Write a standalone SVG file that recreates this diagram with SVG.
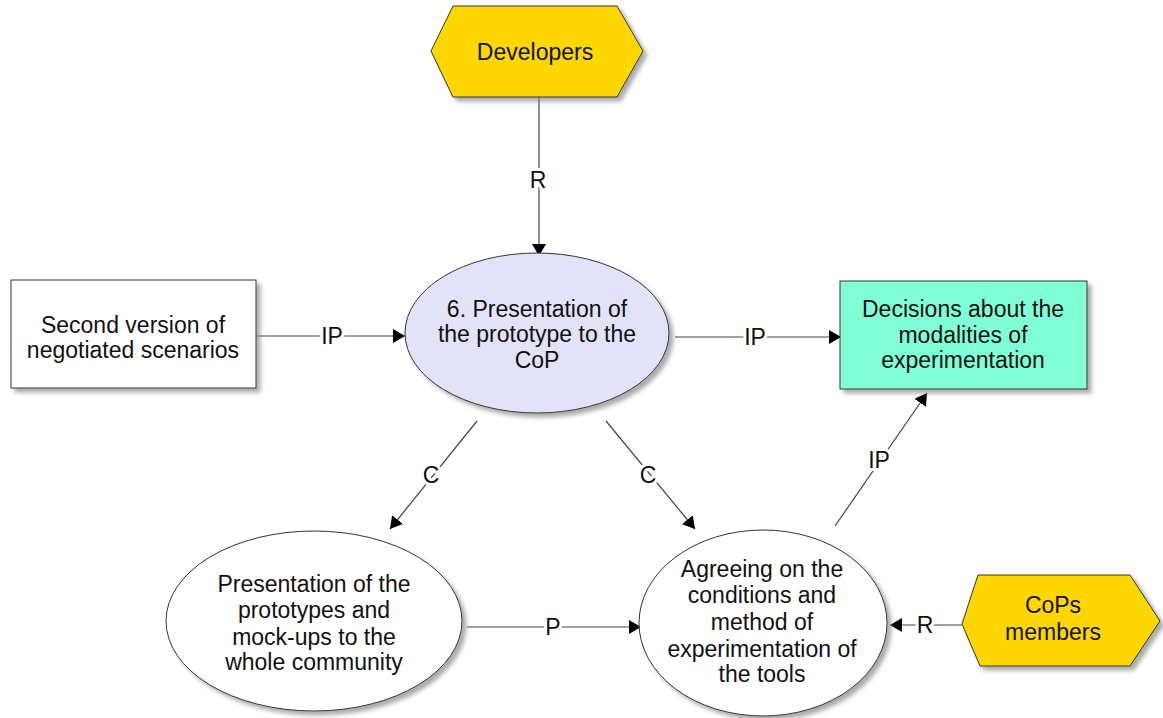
<svg xmlns="http://www.w3.org/2000/svg" width="1163" height="718" viewBox="0 0 1163 718">
<style>
text{font-family:"Liberation Sans",Arial,sans-serif;font-size:23px;fill:#111;text-anchor:middle}
.shape{stroke:#333;stroke-width:1}
.hex{fill:#ffd700}
.conn line{stroke:#444;stroke-width:1.2;fill:none}
.lbl{paint-order:stroke;stroke:#fff;stroke-width:6px;stroke-linejoin:round}
</style>
<defs>
<filter id="sh" x="-10%" y="-10%" width="130%" height="130%">
<feDropShadow dx="4" dy="4" stdDeviation="2" flood-color="#888" flood-opacity="0.7"/>
</filter>
<marker id="ah" viewBox="0 0 12 14" refX="12" refY="7" markerWidth="12" markerHeight="14" markerUnits="userSpaceOnUse" orient="auto">
<path d="M0,0 L12,7 L0,14 Z" fill="#000"/>
</marker>
</defs>
<rect width="1163" height="718" fill="#fff"/>

<g class="conn">
<line x1="539" y1="97" x2="539" y2="256" marker-end="url(#ah)"/>
<line x1="256" y1="336" x2="405" y2="336" marker-end="url(#ah)"/>
<line x1="675" y1="337" x2="841" y2="337" marker-end="url(#ah)"/>
<line x1="477" y1="421" x2="390" y2="529" marker-end="url(#ah)"/>
<line x1="606" y1="421" x2="695" y2="529" marker-end="url(#ah)"/>
<line x1="835" y1="526" x2="927" y2="393" marker-end="url(#ah)"/>
<line x1="467" y1="627" x2="641" y2="627" marker-end="url(#ah)"/>
<line x1="962" y1="625" x2="890" y2="625" marker-end="url(#ah)"/>
<text class="lbl" x="538" y="188">R</text>
<text class="lbl" x="332" y="344">IP</text>
<text class="lbl" x="755" y="345">IP</text>
<text class="lbl" x="431" y="483">C</text>
<text class="lbl" x="648" y="483">C</text>
<text class="lbl" x="879" y="468">IP</text>
<text class="lbl" x="553" y="635">P</text>
<text class="lbl" x="925" y="633">R</text>
</g>

<g id="developers">
<polygon class="shape hex" filter="url(#sh)" points="431,51 453,6 617,6 643,51 617,97 453,97"/>
<text x="535" y="60">Developers</text>
</g>

<g id="second-version">
<rect class="shape" filter="url(#sh)" x="11" y="280" width="245" height="108" fill="#fff"/>
<text x="133" y="333">Second version of</text>
<text x="133" y="358">negotiated scenarios</text>
</g>

<g id="presentation-cop">
<ellipse class="shape" filter="url(#sh)" cx="537" cy="333" rx="132" ry="80" fill="#e2e2f8"/>
<text x="537" y="317">6. Presentation of</text>
<text x="537" y="342">the prototype to the</text>
<text x="537" y="368">CoP</text>
</g>

<g id="decisions">
<rect class="shape" filter="url(#sh)" x="840" y="281" width="247" height="108" fill="#80ffd6"/>
<text x="963" y="317">Decisions about the</text>
<text x="963" y="343">modalities of</text>
<text x="963" y="368">experimentation</text>
</g>

<g id="presentation-community">
<ellipse class="shape" filter="url(#sh)" cx="314" cy="621" rx="148" ry="90" fill="#fff"/>
<text x="314" y="592">Presentation of the</text>
<text x="314" y="618">prototypes and</text>
<text x="314" y="645">mock-ups to the</text>
<text x="314" y="670">whole community</text>
</g>

<g id="agreeing">
<ellipse class="shape" filter="url(#sh)" cx="763" cy="623" rx="124" ry="93" fill="#fff"/>
<text x="762" y="577">Agreeing on the</text>
<text x="762" y="603">conditions and</text>
<text x="762" y="630">method of</text>
<text x="762" y="657">experimentation of</text>
<text x="762" y="682">the tools</text>
</g>

<g id="cops-members">
<polygon class="shape hex" filter="url(#sh)" points="962,624 978,575 1130,575 1160,621 1130,666 980,666"/>
<text x="1053" y="613">CoPs</text>
<text x="1053" y="640">members</text>
</g>
</svg>
